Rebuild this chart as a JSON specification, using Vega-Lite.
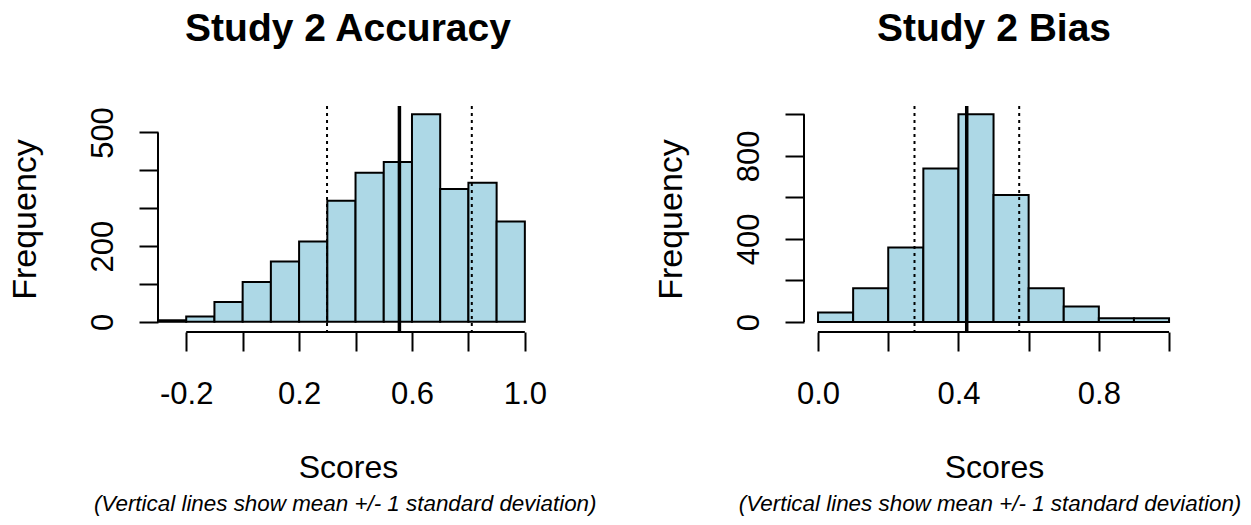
{
  "$schema": "https://vega.github.io/schema/vega-lite/v6.json",
  "background": "white",
  "padding": {"left": 8, "top": 10, "right": 5, "bottom": 5},
  "config": {
    "view": {"stroke": null},
    "font": "Liberation Sans",
    "axis": {
      "domain": false,
      "grid": false,
      "ticks": true,
      "tickSize": 19,
      "tickWidth": 2,
      "tickColor": "black",
      "labelFont": "Liberation Sans",
      "labelFontSize": 31,
      "labelColor": "black",
      "labelOverlap": false,
      "labelFlush": false,
      "labelBound": false,
      "titleFont": "Liberation Sans",
      "titleFontSize": 32,
      "titleFontWeight": "normal",
      "titleColor": "black"
    },
    "title": {
      "font": "Liberation Sans",
      "color": "black",
      "anchor": "middle"
    }
  },
  "datasets": {
    "accuracy": [
      {"bin_start": -0.3, "bin_end": -0.2, "count": 4},
      {"bin_start": -0.2, "bin_end": -0.1, "count": 14},
      {"bin_start": -0.1, "bin_end": 0.0, "count": 52},
      {"bin_start": 0.0, "bin_end": 0.1, "count": 105},
      {"bin_start": 0.1, "bin_end": 0.2, "count": 159},
      {"bin_start": 0.2, "bin_end": 0.3, "count": 212},
      {"bin_start": 0.3, "bin_end": 0.4, "count": 320},
      {"bin_start": 0.4, "bin_end": 0.5, "count": 394},
      {"bin_start": 0.5, "bin_end": 0.6, "count": 422},
      {"bin_start": 0.6, "bin_end": 0.7, "count": 548},
      {"bin_start": 0.7, "bin_end": 0.8, "count": 351},
      {"bin_start": 0.8, "bin_end": 0.9, "count": 367},
      {"bin_start": 0.9, "bin_end": 1.0, "count": 265}
    ],
    "accuracy_stats": [
      {"stat": "mean", "value": 0.5555},
      {"stat": "mean - 1 SD", "value": 0.299},
      {"stat": "mean + 1 SD", "value": 0.812}
    ],
    "bias": [
      {"bin_start": 0.0, "bin_end": 0.1, "count": 46},
      {"bin_start": 0.1, "bin_end": 0.2, "count": 163},
      {"bin_start": 0.2, "bin_end": 0.3, "count": 359},
      {"bin_start": 0.3, "bin_end": 0.4, "count": 739},
      {"bin_start": 0.4, "bin_end": 0.5, "count": 1000},
      {"bin_start": 0.5, "bin_end": 0.6, "count": 612},
      {"bin_start": 0.6, "bin_end": 0.7, "count": 163},
      {"bin_start": 0.7, "bin_end": 0.8, "count": 75},
      {"bin_start": 0.8, "bin_end": 0.9, "count": 18},
      {"bin_start": 0.9, "bin_end": 1.0, "count": 18}
    ],
    "bias_stats": [
      {"stat": "mean", "value": 0.4236},
      {"stat": "mean - 1 SD", "value": 0.2748},
      {"stat": "mean + 1 SD", "value": 0.5731}
    ]
  },
  "hconcat": [
    {
      "title": {"text": "(Vertical lines show mean +/- 1 standard deviation)", "orient": "bottom", "fontSize": 22.4, "fontStyle": "italic", "fontWeight": "normal", "baseline": "alphabetic", "offset": 28, "dx": 68},
      "vconcat": [
        {
          "title": {"text": "Study 2 Accuracy", "fontSize": 39, "fontWeight": "bold", "baseline": "alphabetic", "offset": 24},
          "width": 380,
          "height": 226,
          "layer": [
            {
              "data": {"name": "accuracy"},
              "mark": {"type": "rect", "fill": "#ADD8E6", "stroke": "black", "strokeWidth": 2},
              "encoding": {
                "x": {
                  "field": "bin_start", "type": "quantitative",
                  "scale": {"domain": [-0.3, 1.0466], "nice": false, "zero": false},
                  "axis": {
                    "title": "Scores",
                    "values": [-0.2, 0, 0.2, 0.4, 0.6, 0.8, 1.0],
                    "labelExpr": "datum.value == -0.2 ? '-0.2' : datum.value == 0.2 ? '0.2' : datum.value == 0.6 ? '0.6' : datum.value == 1 ? '1.0' : ''",
                    "labelBaseline": "alphabetic",
                    "labelPadding": 52,
                    "titleBaseline": "alphabetic",
                    "titleX": 190,
                    "titleY": 145
                  }
                },
                "x2": {"field": "bin_end"},
                "y": {
                  "field": "count", "type": "quantitative",
                  "scale": {"domain": [-27, 570], "nice": false, "zero": false},
                  "axis": {
                    "title": "Frequency",
                    "values": [0, 100, 200, 300, 400, 500],
                    "labelExpr": "datum.value == 0 || datum.value == 200 || datum.value == 500 ? datum.label : ''",
                    "labelAngle": -90,
                    "labelAlign": "center",
                    "labelBaseline": "alphabetic",
                    "labelPadding": 27,
                    "titleFontSize": 34,
                    "titleAngle": -90,
                    "titleAlign": "center",
                    "titleBaseline": "alphabetic",
                    "titleX": -123,
                    "titleY": 113
                  }
                },
                "y2": {"datum": 0}
              }
            },
            {
              "data": {"name": "accuracy_stats"},
              "transform": [{"filter": "datum.stat == 'mean'"}],
              "mark": {"type": "rule", "color": "black", "strokeWidth": 3.5},
              "encoding": {"x": {"field": "value", "type": "quantitative"}}
            },
            {
              "data": {"name": "accuracy_stats"},
              "transform": [{"filter": "datum.stat != 'mean'"}],
              "mark": {"type": "rule", "color": "black", "strokeWidth": 2, "strokeDash": [3, 4]},
              "encoding": {"x": {"field": "value", "type": "quantitative"}}
            },
            {
              "data": {"values": [{}]},
              "mark": {"type": "rule", "color": "black", "strokeWidth": 2},
              "encoding": {"x": {"datum": -0.2}, "x2": {"datum": 1.0}, "y": {"datum": -27}}
            },
            {
              "data": {"values": [{}]},
              "mark": {"type": "rule", "color": "black", "strokeWidth": 2},
              "encoding": {"x": {"datum": -0.3}, "y": {"datum": 0}, "y2": {"datum": 500}}
            }
          ]
        }
      ]
    },
    {
      "title": {"text": "(Vertical lines show mean +/- 1 standard deviation)", "orient": "bottom", "fontSize": 22.4, "fontStyle": "italic", "fontWeight": "normal", "baseline": "alphabetic", "offset": 28, "dx": 71},
      "vconcat": [
        {
          "title": {"text": "Study 2 Bias", "fontSize": 39, "fontWeight": "bold", "baseline": "alphabetic", "offset": 24},
          "width": 380,
          "height": 226,
          "layer": [
            {
              "data": {"name": "bias"},
              "mark": {"type": "rect", "fill": "#ADD8E6", "stroke": "black", "strokeWidth": 2},
              "encoding": {
                "x": {
                  "field": "bin_start", "type": "quantitative",
                  "scale": {"domain": [-0.04, 1.0426], "nice": false, "zero": false},
                  "axis": {
                    "title": "Scores",
                    "values": [0, 0.2, 0.4, 0.6, 0.8, 1.0],
                    "labelExpr": "datum.value == 0 ? '0.0' : datum.value == 0.4 ? '0.4' : datum.value == 0.8 ? '0.8' : ''",
                    "labelBaseline": "alphabetic",
                    "labelPadding": 52,
                    "titleBaseline": "alphabetic",
                    "titleX": 190,
                    "titleY": 145
                  }
                },
                "x2": {"field": "bin_end"},
                "y": {
                  "field": "count", "type": "quantitative",
                  "scale": {"domain": [-48, 1040], "nice": false, "zero": false},
                  "axis": {
                    "title": "Frequency",
                    "values": [0, 200, 400, 600, 800, 1000],
                    "labelExpr": "datum.value == 0 || datum.value == 400 || datum.value == 800 ? datum.label : ''",
                    "labelAngle": -90,
                    "labelAlign": "center",
                    "labelBaseline": "alphabetic",
                    "labelPadding": 27,
                    "titleFontSize": 34,
                    "titleAngle": -90,
                    "titleAlign": "center",
                    "titleBaseline": "alphabetic",
                    "titleX": -123,
                    "titleY": 113
                  }
                },
                "y2": {"datum": 0}
              }
            },
            {
              "data": {"name": "bias_stats"},
              "transform": [{"filter": "datum.stat == 'mean'"}],
              "mark": {"type": "rule", "color": "black", "strokeWidth": 3.5},
              "encoding": {"x": {"field": "value", "type": "quantitative"}}
            },
            {
              "data": {"name": "bias_stats"},
              "transform": [{"filter": "datum.stat != 'mean'"}],
              "mark": {"type": "rule", "color": "black", "strokeWidth": 2, "strokeDash": [3, 4]},
              "encoding": {"x": {"field": "value", "type": "quantitative"}}
            },
            {
              "data": {"values": [{}]},
              "mark": {"type": "rule", "color": "black", "strokeWidth": 2},
              "encoding": {"x": {"datum": 0}, "x2": {"datum": 1.0}, "y": {"datum": -48}}
            },
            {
              "data": {"values": [{}]},
              "mark": {"type": "rule", "color": "black", "strokeWidth": 2},
              "encoding": {"x": {"datum": -0.04}, "y": {"datum": 0}, "y2": {"datum": 1000}}
            }
          ]
        }
      ]
    }
  ],
  "spacing": 57
}
